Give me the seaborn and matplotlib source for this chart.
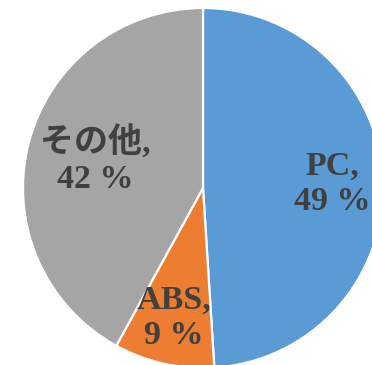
import numpy as np
import matplotlib
matplotlib.use("Agg")
import matplotlib.pyplot as plt
import seaborn as sns

# Material share
categories = ["PC", "ABS", "その他"]
shares = [49, 9, 42]
colors = ["#5B9BD5", "#ED7D31", "#A5A5A5"]
label_radius = [0.72, 0.74, 0.62]

sns.set_theme(style="white")
plt.rcParams["font.family"] = ["Liberation Serif", "Noto Sans CJK JP", "DejaVu Sans"]

fig = plt.figure(figsize=(3.72, 3.65), dpi=100)
ax = fig.add_axes([0, 0, 1, 1])

wedges, _ = ax.pie(
    shares,
    colors=colors,
    startangle=90,
    counterclock=False,
    radius=1.0,
    wedgeprops=dict(edgecolor="white", linewidth=1.6),
)

for w, name, val, r in zip(wedges, categories, shares, label_radius):
    mid = np.deg2rad((w.theta1 + w.theta2) / 2)
    ax.text(r * np.cos(mid), r * np.sin(mid), f"{name},\n{val} %",
            ha="center", va="center", fontsize=24.5, fontweight="bold",
            color="#404040", linespacing=1.2)

ax.set_aspect("auto")
ax.set_xlim(-203 / 180, (372 - 203) / 180)
ax.set_ylim(-(365 - 188) / 180, 188 / 180)
ax.axis("off")

fig.savefig("out.png", dpi=100)
